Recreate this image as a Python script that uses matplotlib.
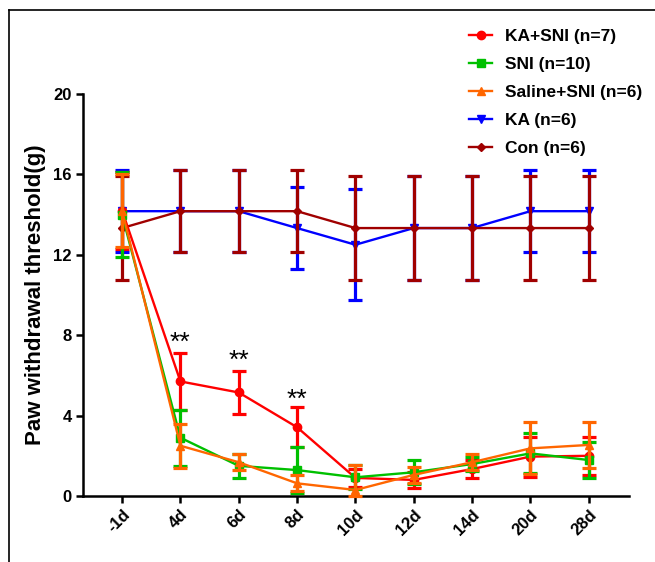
import matplotlib
matplotlib.use("Agg")
import matplotlib.pyplot as plt
from matplotlib.lines import Line2D
import numpy as np

plt.rcParams['font.family'] = ['Liberation Sans', 'DejaVu Sans']
plt.rcParams['font.weight'] = 'bold'

days = ["-1d", "4d", "6d", "8d", "10d", "12d", "14d", "20d", "28d"]

# mean and error bar (SEM)
ka_sni = [14.2, 5.7, 5.15, 3.42, 0.9, 0.8, 1.34, 1.96, 2.0]
ka_sni_err = [1.9, 1.4, 1.07, 1.0, 0.45, 0.4, 0.45, 1.0, 0.95]
sni = [14.0, 2.9, 1.5, 1.29, 0.93, 1.18, 1.59, 2.12, 1.79]
sni_err = [2.1, 1.4, 0.6, 1.15, 0.6, 0.6, 0.35, 1.0, 0.9]
saline_sni = [14.2, 2.5, 1.68, 0.63, 0.3, 1.05, 1.68, 2.37, 2.54]
saline_sni_err = [1.8, 1.1, 0.4, 0.4, 1.25, 0.4, 0.4, 1.3, 1.13]
ka = [14.17, 14.17, 14.17, 13.33, 12.5, 13.33, 13.33, 14.17, 14.17]
ka_err = [2.03, 2.03, 2.03, 2.05, 2.75, 2.58, 2.58, 2.03, 2.03]
con = [13.33, 14.17, 14.17, 14.17, 13.33, 13.33, 13.33, 13.33, 13.33]
con_err = [2.58, 2.05, 2.05, 2.05, 2.58, 2.58, 2.58, 2.58, 2.58]

# significance marks (day index, height)
stars_idx = [1, 2, 3]
stars_y = [7.6, 6.7, 4.8]

groups = [
    ("KA+SNI (n=7)", ka_sni, ka_sni_err, "#FF0000", "o", 6, 5),
    ("SNI (n=10)", sni, sni_err, "#00C000", "s", 6, 6),
    ("Saline+SNI (n=6)", saline_sni, saline_sni_err, "#FF6600", "^", 6, 7),
    ("KA (n=6)", ka, ka_err, "#0000FF", "v", 6, 3),
    ("Con (n=6)", con, con_err, "#A00000", "D", 4, 4),
]

fig = plt.figure(figsize=(6.55, 5.62), dpi=100)
ax = fig.add_axes([83/655, 1-496/562, (629-83)/655, (496-94)/562])

x = np.arange(len(days))
handles = []
for label, y, err, color, marker, ms, z in groups:
    y = np.array(y)
    err = np.array(err)
    # error bars stop at the x axis
    lower = np.minimum(err, y)
    ax.errorbar(x, y, yerr=[lower, err], color=color, marker=marker,
                markersize=ms, linewidth=1.7, elinewidth=2.3, capsize=5,
                capthick=2.3, zorder=z, clip_on=False)
    handles.append(Line2D([0], [0], color=color, marker=marker, markersize=ms,
                          linewidth=1.7, label=label))

for i, ys in zip(stars_idx, stars_y):
    ax.text(x[i], ys, "**", ha="center", va="center", fontsize=19,
            fontweight="normal")

ax.set_xlim(-0.67, 8.69)
ax.set_ylim(0, 20)
ax.set_yticks([0, 4, 8, 12, 16, 20])
ax.set_xticks(x)
ax.set_xticklabels(days, rotation=45, ha="right", rotation_mode="anchor",
                   fontsize=12, fontweight="bold")
for lab in ax.get_yticklabels():
    lab.set_fontsize(12)
    lab.set_fontweight("bold")
ax.set_ylabel("Paw withdrawal threshold(g)", fontsize=16, fontweight="bold",
              labelpad=5)

ax.spines['top'].set_visible(False)
ax.spines['right'].set_visible(False)
ax.spines['left'].set_linewidth(1.8)
ax.spines['bottom'].set_linewidth(1.8)
ax.tick_params(width=1.8, length=5, direction="out", pad=3)

fig.legend(handles=handles, loc="upper left",
           bbox_to_anchor=(469/655, 1-29/562), frameon=False,
           fontsize=12.5, handlelength=1.35, handletextpad=0.75,
           labelspacing=0.74, borderpad=0, borderaxespad=0)

# thin frame lines at the top and left of the figure
fig.add_artist(Line2D([9/655, 9/655], [0, 1-10/562], color="black",
                      linewidth=1.2, transform=fig.transFigure))
fig.add_artist(Line2D([9/655, 1], [1-10/562, 1-10/562], color="black",
                      linewidth=1.2, transform=fig.transFigure))

fig.savefig("out.png", dpi=100)
